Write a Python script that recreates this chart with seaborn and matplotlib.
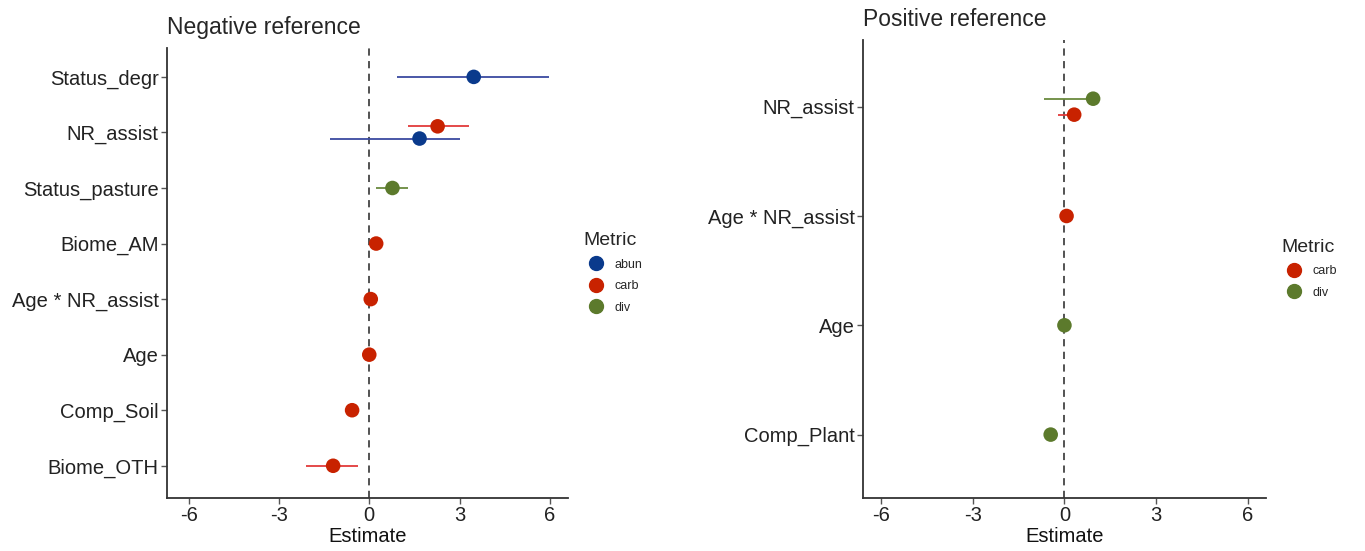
import numpy as np
import pandas as pd
import matplotlib.pyplot as plt
import seaborn as sns
from matplotlib.lines import Line2D

# Negative reference panel
neg_order = ["Status_degr", "NR_assist", "Status_pasture", "Biome_AM",
             "Age * NR_assist", "Age", "Comp_Soil", "Biome_OTH"]
neg_term = ["Status_degr", "NR_assist", "NR_assist", "Status_pasture", "Biome_AM",
            "Age * NR_assist", "Age", "Comp_Soil", "Biome_OTH"]
neg_metric = ["abun", "abun", "carb", "div", "carb", "carb", "carb", "carb", "carb"]
neg_est = [3.47, 1.67, 2.27, 0.77, 0.23, 0.05, 0.0, -0.57, -1.2]
neg_lo = [0.93, -1.3, 1.27, 0.23, 0.12, -0.02, -0.05, -0.66, -2.1]
neg_hi = [5.97, 3.0, 3.3, 1.3, 0.34, 0.12, 0.05, -0.48, -0.37]

# Positive reference panel
pos_order = ["NR_assist", "Age * NR_assist", "Age", "Comp_Plant"]
pos_term = ["NR_assist", "NR_assist", "Age * NR_assist", "Age", "Comp_Plant"]
pos_metric = ["carb", "div", "carb", "div", "div"]
pos_est = [0.32, 0.94, 0.07, 0.0, -0.45]
pos_lo = [-0.2, -0.68, 0.0, -0.05, -0.52]
pos_hi = [0.4, 1.1, 0.14, 0.05, -0.38]

point_colors = {"abun": "#0a3a8c", "carb": "#c82200", "div": "#5c7a2c"}
line_colors = {"abun": "#3a4aa0", "carb": "#e23a3a", "div": "#6a8a3e"}


def make_df(term, metric, est, lo, hi, order, dodge):
    df = pd.DataFrame({"term": term, "Metric": metric, "est": est, "lo": lo, "hi": hi})
    df["pos"] = df["term"].map({t: i for i, t in enumerate(order)}).astype(float)
    # later metric (alphabetically) sits on top, like ggplot dodge + coord_flip
    for t, g in df.groupby("term"):
        if len(g) > 1:
            ranks = g["Metric"].rank().values
            off = -(ranks - ranks.mean()) * dodge
            df.loc[g.index, "pos"] += off
    return df


def draw_panel(ax, df, order, title, metrics, xlim, ylim):
    for _, r in df.iterrows():
        ax.hlines(r["pos"], r["lo"], r["hi"], color=line_colors[r["Metric"]], lw=1.3, zorder=2)
    sns.scatterplot(data=df, x="est", y="pos", hue="Metric", palette=point_colors,
                    s=110, marker="o", edgecolor=None, linewidth=0, legend=False,
                    ax=ax, zorder=3)
    ax.axvline(0, color="#444444", ls=(0, (4, 3)), lw=1.3, zorder=1)
    ax.set_xlim(*xlim)
    ax.set_ylim(*ylim)
    ax.set_yticks(range(len(order)))
    ax.set_yticklabels(order, fontsize=14.5, color="#222222")
    ax.set_xticks([-6, -3, 0, 3, 6])
    ax.set_xticklabels(["-6", "-3", "0", "3", "6"], fontsize=14.5, color="#222222")
    ax.set_xlabel("Estimate", fontsize=14.5, labelpad=1, color="#111111")
    ax.set_ylabel("")
    ax.set_title(title, loc="left", fontsize=16.5, pad=10)
    for s in ["top", "right"]:
        ax.spines[s].set_visible(False)
    for s in ["left", "bottom"]:
        ax.spines[s].set_color("#333333")
        ax.spines[s].set_linewidth(1.3)
    ax.tick_params(axis="both", bottom=True, left=True, length=4, width=1,
                   color="#555555", pad=2)
    ax.grid(False)

    handles = [Line2D([0], [0], marker="o", color="none", markerfacecolor=point_colors[m],
                      markeredgecolor=point_colors[m], markersize=10, label=m) for m in metrics]
    leg = ax.legend(handles=handles, title="Metric", loc="center left",
                    bbox_to_anchor=(1.01, 0.5), frameon=False, fontsize=9,
                    title_fontsize=14, handletextpad=0.5, labelspacing=0.75,
                    alignment="left")
    return leg


def main():
    sns.set_theme(style="white")
    plt.rcParams["font.family"] = ["Liberation Sans", "DejaVu Sans"]

    fig = plt.figure(figsize=(13.65, 5.51), dpi=100)
    ax1 = fig.add_axes([0.1223, 0.0962, 0.2938, 0.8167])
    ax2 = fig.add_axes([0.6322, 0.0962, 0.2952, 0.8312])

    neg_df = make_df(neg_term, neg_metric, neg_est, neg_lo, neg_hi, neg_order, 0.22)
    pos_df = make_df(pos_term, pos_metric, pos_est, pos_lo, pos_hi, pos_order, 0.146)

    draw_panel(ax1, neg_df, neg_order, "Negative reference", ["abun", "carb", "div"],
               (-6.72, 6.6), (7.58, -0.52))
    draw_panel(ax2, pos_df, pos_order, "Positive reference", ["carb", "div"],
               (-6.6, 6.6), (3.58, -0.61))

    fig.savefig("out.png", dpi=100, facecolor="white")
    plt.close(fig)


if __name__ == "__main__":
    main()
